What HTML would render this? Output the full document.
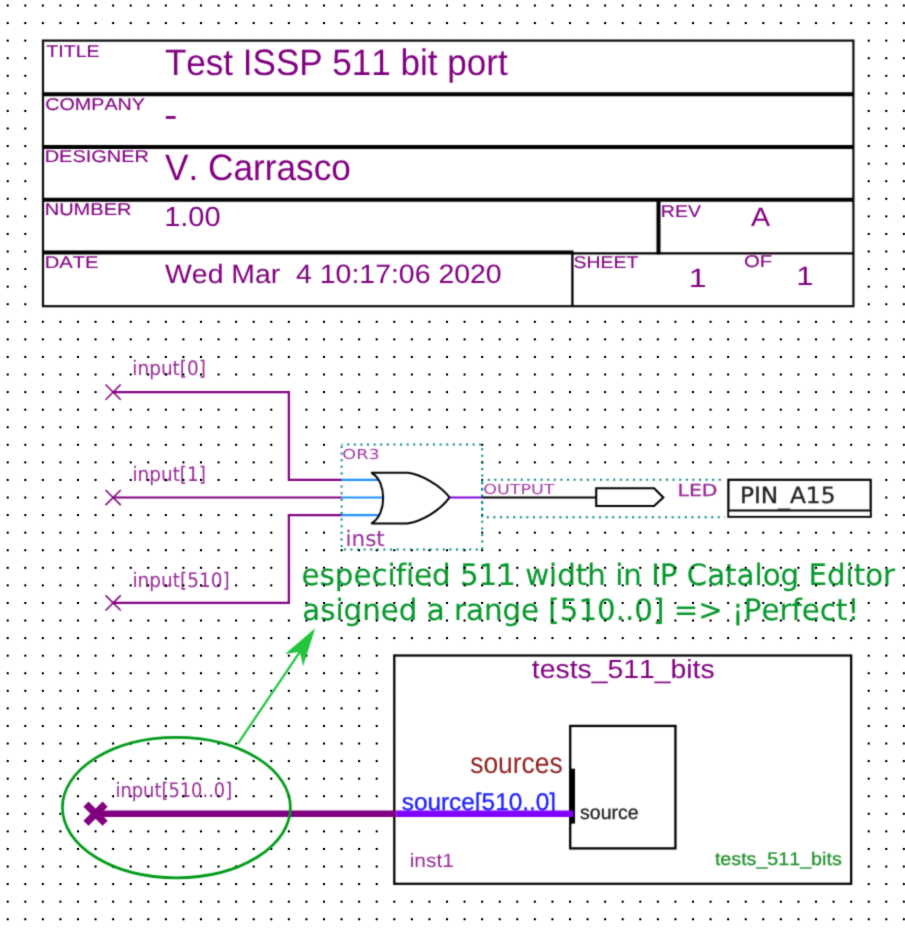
<!DOCTYPE html>
<html lang="en">
<head>
<meta charset="utf-8">
<title>Test ISSP 511 bit port</title>
<style>
html,body{margin:0;padding:0;background:#fff;}
body{width:905px;height:929px;overflow:hidden;}
svg text{white-space:pre;}
</style>
</head>
<body>
<svg width="905" height="929" viewBox="0 0 905 929" style="display:block" text-rendering="geometricPrecision">
<defs>
<pattern id="grid" x="-1.086" y="-3.286" width="17.572" height="17.572" patternUnits="userSpaceOnUse">
<rect x="7.586" y="7.586" width="2.4" height="2.4" rx="1.0" fill="#1a1a1a"/>
</pattern>
<mask id="dm" maskUnits="userSpaceOnUse" x="0" y="0" width="905" height="929"><rect width="905" height="929" fill="#fff"/><polyline points="113.13,392.08 288.85,392.08 288.85,479.94 341.6,479.94" fill="none" stroke="#000" stroke-width="5" stroke-linecap="square"/><polyline points="113.13,497.52 341.6,497.52" fill="none" stroke="#000" stroke-width="5" stroke-linecap="square"/><polyline points="113.13,602.95 288.85,602.95 288.85,515.09 341.6,515.09" fill="none" stroke="#000" stroke-width="5" stroke-linecap="square"/><line x1="445" y1="497.52" x2="600" y2="497.52" stroke="#000" stroke-width="5"/><line x1="89.56" y1="813.7" x2="400" y2="813.7" stroke="#000" stroke-width="8"/></mask>
<filter id="soft" x="0" y="0" width="905" height="929" filterUnits="userSpaceOnUse" color-interpolation-filters="sRGB"><feConvolveMatrix order="3" kernelMatrix="1 4 1 4 16 4 1 4 1" divisor="36" edgeMode="duplicate" preserveAlpha="false"/></filter>
</defs>
<g filter="url(#soft)">
<rect width="905" height="929" fill="#fff"/>
<g id="freetext" style="font-kerning:none;font-variant-ligatures:none">
<text transform="translate(132.26 375.20) scale(0.9255 1)" font-size="20" fill="#962a96" font-family='"DejaVu Sans", "Liberation Sans", sans-serif' xml:space="preserve" >input[0]</text>
<text transform="translate(132.46 480.90) scale(0.9216 1)" font-size="20" fill="#962a96" font-family='"DejaVu Sans", "Liberation Sans", sans-serif' xml:space="preserve" >input[1]</text>
<text transform="translate(132.46 586.80) scale(0.9250 1)" font-size="20" fill="#962a96" font-family='"DejaVu Sans", "Liberation Sans", sans-serif' xml:space="preserve" >input[510]</text>
<text transform="translate(115.52 796.60) scale(0.8925 1)" font-size="20" fill="#962a96" font-family='"DejaVu Sans", "Liberation Sans", sans-serif' xml:space="preserve" >input[510..0]</text>
<text transform="translate(301.58 584.80) scale(0.9960 1)" font-size="29.4" fill="#05962a" font-family='"DejaVu Sans", "Liberation Sans", sans-serif' xml:space="preserve" stroke="#05962a" stroke-width="0.1">especified 511 width in IP Catalog Editor</text>
<text transform="translate(302.24 620.00) scale(0.9964 1)" font-size="29.4" fill="#05962a" font-family='"DejaVu Sans", "Liberation Sans", sans-serif' xml:space="preserve" stroke="#05962a" stroke-width="0.1">asigned a range [510..0] =&gt; ¡Perfect!</text>
</g>
</g>
<rect width="905" height="929" fill="url(#grid)" mask="url(#dm)"/>
<g filter="url(#soft)">
<g id="top" style="font-kerning:none;font-variant-ligatures:none">
<rect x="40.6" y="38.2" width="815.1999999999999" height="270.4" fill="#fff"/>
<rect x="43.0" y="40.6" width="810.4" height="265.59999999999997" fill="#fff" stroke="#0a0a0a" stroke-width="2.2"/>
<line x1="43.0" y1="94.3" x2="853.4" y2="94.3" stroke="#000" stroke-width="4"/>
<line x1="43.0" y1="147.0" x2="853.4" y2="147.0" stroke="#000" stroke-width="4"/>
<line x1="43.0" y1="199.7" x2="853.4" y2="199.7" stroke="#000" stroke-width="4"/>
<line x1="43.0" y1="252.4" x2="573.5" y2="252.4" stroke="#000" stroke-width="4"/>
<line x1="572.4" y1="252" x2="572.4" y2="306.2" stroke="#000" stroke-width="2.3"/>
<line x1="658.5" y1="199.7" x2="658.5" y2="254.3" stroke="#000" stroke-width="4"/>
<line x1="572.4" y1="253.3" x2="853.4" y2="253.3" stroke="#000" stroke-width="2.3"/>
<text transform="translate(46.36 56.80) scale(1.1511 1)" font-size="17" fill="#800080" font-family='"Liberation Sans", Arial, sans-serif' xml:space="preserve" stroke="#800080" stroke-width="0.1">TITLE</text>
<text transform="translate(45.30 109.50) scale(1.1591 1)" font-size="17" fill="#800080" font-family='"Liberation Sans", Arial, sans-serif' xml:space="preserve" stroke="#800080" stroke-width="0.1">COMPANY</text>
<text transform="translate(44.66 162.20) scale(1.1742 1)" font-size="17" fill="#800080" font-family='"Liberation Sans", Arial, sans-serif' xml:space="preserve" stroke="#800080" stroke-width="0.1">DESIGNER</text>
<text transform="translate(44.66 215.10) scale(1.1792 1)" font-size="17" fill="#800080" font-family='"Liberation Sans", Arial, sans-serif' xml:space="preserve" stroke="#800080" stroke-width="0.1">NUMBER</text>
<text transform="translate(44.64 267.60) scale(1.1871 1)" font-size="17" fill="#800080" font-family='"Liberation Sans", Arial, sans-serif' xml:space="preserve" stroke="#800080" stroke-width="0.1">DATE</text>
<text transform="translate(660.80 216.80) scale(1.1468 1)" font-size="17" fill="#800080" font-family='"Liberation Sans", Arial, sans-serif' xml:space="preserve" stroke="#800080" stroke-width="0.1">REV</text>
<text transform="translate(573.62 267.60) scale(1.1402 1)" font-size="17" fill="#800080" font-family='"Liberation Sans", Arial, sans-serif' xml:space="preserve" stroke="#800080" stroke-width="0.1">SHEET</text>
<text transform="translate(744.04 267.30) scale(1.1934 1)" font-size="17" fill="#800080" font-family='"Liberation Sans", Arial, sans-serif' xml:space="preserve" stroke="#800080" stroke-width="0.1">OF</text>
<text transform="translate(164.91 74.80) scale(0.9521 1)" font-size="36.8" fill="#800080" font-family='"Liberation Sans", Arial, sans-serif' xml:space="preserve" >Test ISSP 511 bit port</text>
<text transform="translate(164.02 126.60) scale(1.1150 1)" font-size="36" fill="#800080" font-family='"Liberation Sans", Arial, sans-serif' xml:space="preserve" >-</text>
<text transform="translate(164.95 179.90) scale(0.9570 1)" font-size="36.8" fill="#800080" font-family='"Liberation Sans", Arial, sans-serif' xml:space="preserve" >V. Carrasco</text>
<text transform="translate(164.19 225.70) scale(1.0545 1)" font-size="27.5" fill="#800080" font-family='"Liberation Sans", Arial, sans-serif' xml:space="preserve" >1.00</text>
<text transform="translate(164.98 283.00) scale(1.0691 1)" font-size="26.6" fill="#800080" font-family='"Liberation Sans", Arial, sans-serif' xml:space="preserve" >Wed Mar  4 10:17:06 2020</text>
<text transform="translate(751.04 226.40) scale(1.0813 1)" font-size="26.5" fill="#800080" font-family='"Liberation Sans", Arial, sans-serif' xml:space="preserve" >A</text>
<text transform="translate(688.76 287.20) scale(1.2078 1)" font-size="26.5" fill="#800080" font-family='"Liberation Sans", Arial, sans-serif' xml:space="preserve" >1</text>
<text transform="translate(796.35 284.70) scale(1.1641 1)" font-size="26.5" fill="#800080" font-family='"Liberation Sans", Arial, sans-serif' xml:space="preserve" >1</text>
<rect x="339.1" y="442.0" width="141.79999999999995" height="106.10000000000002" fill="#fff"/>
<rect x="341.6" y="444.6" width="140.59999999999997" height="104.79999999999995" fill="none" stroke="#008080" stroke-width="2" stroke-dasharray="2 4.6" stroke-dashoffset="1"/>
<polyline points="113.13,392.08 288.85,392.08 288.85,479.94 341.6,479.94" fill="none" stroke="#800080" stroke-width="2.2"/>
<polyline points="113.13,497.52 341.6,497.52" fill="none" stroke="#800080" stroke-width="2.2"/>
<polyline points="113.13,602.95 288.85,602.95 288.85,515.09 341.6,515.09" fill="none" stroke="#800080" stroke-width="2.2"/>
<path d="M105.53 384.47999999999996L120.72999999999999 399.68M105.53 399.68L120.72999999999999 384.47999999999996" stroke="#800080" stroke-width="1.5" fill="none"/>
<path d="M105.53 489.91999999999996L120.72999999999999 505.12M105.53 505.12L120.72999999999999 489.91999999999996" stroke="#800080" stroke-width="1.5" fill="none"/>
<path d="M105.53 595.35L120.72999999999999 610.5500000000001M105.53 610.5500000000001L120.72999999999999 595.35" stroke="#800080" stroke-width="1.5" fill="none"/>
<path d="M341.6 479.94H378.5M341.6 497.52H383.5M341.6 515.09H378.5" stroke="#1e90ff" stroke-width="2.2" fill="none"/>
<path d="M371.3 472.8H408C421 474.5 440 485 449.6 497.4C440 510.8 421 521.7 407 523.4H371.3L372.6 522.6C386.7 514 386.7 482 372.6 473.6Z" fill="#fff" stroke="#000" stroke-width="2" stroke-linejoin="bevel"/>
<line x1="449.7" y1="497.52" x2="482.2" y2="497.52" stroke="#8000e0" stroke-width="1.8"/>
<text transform="translate(342.31 458.60) scale(1.2853 1)" font-size="13.7" fill="#a23aa2" font-family='"DejaVu Sans", "Liberation Sans", sans-serif' xml:space="preserve" >OR3</text>
<text transform="translate(345.47 546.10) scale(1.0124 1)" font-size="21.3" fill="#962a96" font-family='"DejaVu Sans", "Liberation Sans", sans-serif' xml:space="preserve" >inst</text>
<rect x="483.5" y="477.3" width="243.5" height="40.900000000000034" fill="#fff"/>
<rect x="482.2" y="479.8" width="244.8" height="37.400000000000034" fill="none" stroke="#008080" stroke-width="2" stroke-dasharray="2 4.6" stroke-dashoffset="1"/>
<line x1="482.2" y1="497.52" x2="596" y2="497.52" stroke="#000" stroke-width="2.2"/>
<path d="M596.2 488.3H654.1L663.3 497.52L654.1 506H596.2Z" fill="#fff" stroke="#000" stroke-width="2.1"/>
<text transform="translate(483.22 493.70) scale(1.2664 1)" font-size="13.8" fill="#a23aa2" font-family='"DejaVu Sans", "Liberation Sans", sans-serif' xml:space="preserve" >OUTPUT</text>
<text transform="translate(677.60 495.80) scale(1.2345 1)" font-size="16.5" fill="#962a96" font-family='"DejaVu Sans", "Liberation Sans", sans-serif' xml:space="preserve" stroke="#962a96" stroke-width="0.3">LED</text>
<rect x="724.8" y="477.0" width="148.3" height="42.2" fill="#fff"/>
<rect x="728.4" y="479.8" width="142.3" height="36.9" fill="#fff" stroke="#000" stroke-width="2.2"/>
<text transform="translate(739.91 502.60) scale(1.0406 1)" font-size="22.4" fill="#222" font-family='"DejaVu Sans", "Liberation Sans", sans-serif' xml:space="preserve" stroke="#222" stroke-width="0.3">PIN<tspan dy="2.4">_</tspan><tspan dy="-2.4">A15</tspan></text>
<rect x="729.3" y="509.6" width="140.5" height="6.2" fill="#fff"/>
<line x1="728.4" y1="510.5" x2="870.7" y2="510.5" stroke="#000" stroke-width="2.1"/>
<rect x="391.88" y="653.1" width="461.68" height="233.10" fill="#fff"/>
<rect x="394.28" y="655.5" width="456.88" height="228.30" fill="#fff" stroke="#000" stroke-width="2.25"/>
<rect x="570.2" y="725.95" width="105.24" height="122.45" fill="#fff" stroke="#000" stroke-width="2.3"/>
<text transform="translate(531.87 677.60) scale(1.0775 1)" font-size="26.3" fill="#800080" font-family='"Liberation Sans", Arial, sans-serif' xml:space="preserve" >tests_511_bits</text>
<text transform="translate(470.16 773.30) scale(0.9056 1)" font-size="29.2" fill="#8f1f1f" font-family='"Liberation Sans", Arial, sans-serif' xml:space="preserve" >sources</text>
<text transform="translate(401.72 810.00) scale(1.0152 1)" font-size="24" fill="#1c1cff" font-family='"Liberation Sans", Arial, sans-serif' xml:space="preserve" stroke="#1c1cff" stroke-width="0.3">source[510..0]</text>
<text transform="translate(580.06 818.60) scale(1.0014 1)" font-size="19.5" fill="#1c1c1c" font-family='"Liberation Sans", Arial, sans-serif' xml:space="preserve" stroke="#1c1c1c" stroke-width="0.25">source</text>
<text transform="translate(409.70 867.30) scale(1.0848 1)" font-size="19.3" fill="#962a96" font-family='"Liberation Sans", Arial, sans-serif' xml:space="preserve" >inst1</text>
<text transform="translate(714.90 864.80) scale(1.0813 1)" font-size="18.2" fill="#1f8f2a" font-family='"Liberation Sans", Arial, sans-serif' xml:space="preserve" stroke="#1f8f2a" stroke-width="0.25">tests_511_bits</text>
<line x1="572.7" y1="768.7" x2="572.7" y2="823.6" stroke="#000" stroke-width="4.6"/>
<line x1="95.56" y1="813.7" x2="396.6" y2="813.7" stroke="#800080" stroke-width="6.6"/>
<line x1="396.6" y1="813.7" x2="573.4" y2="813.7" stroke="#8000ff" stroke-width="6.4"/>
<path d="M85.96000000000001 804.1L105.16 823.3000000000001M85.96000000000001 823.3000000000001L105.16 804.1" stroke="#800080" stroke-width="7.2" fill="none"/>
<ellipse cx="176.4" cy="807.6" rx="114" ry="70.2" fill="none" stroke="#009a1a" stroke-width="2.7"/>
<line x1="237.8" y1="743.8" x2="300.5" y2="650.8" stroke="#1cc23a" stroke-width="2.15"/>
<path d="M315.2 628.3L285 653.9L299.8 651.7L303.1 666.3Z" fill="#22c53c"/>
</g>
</g>
</svg>
</body>
</html>
